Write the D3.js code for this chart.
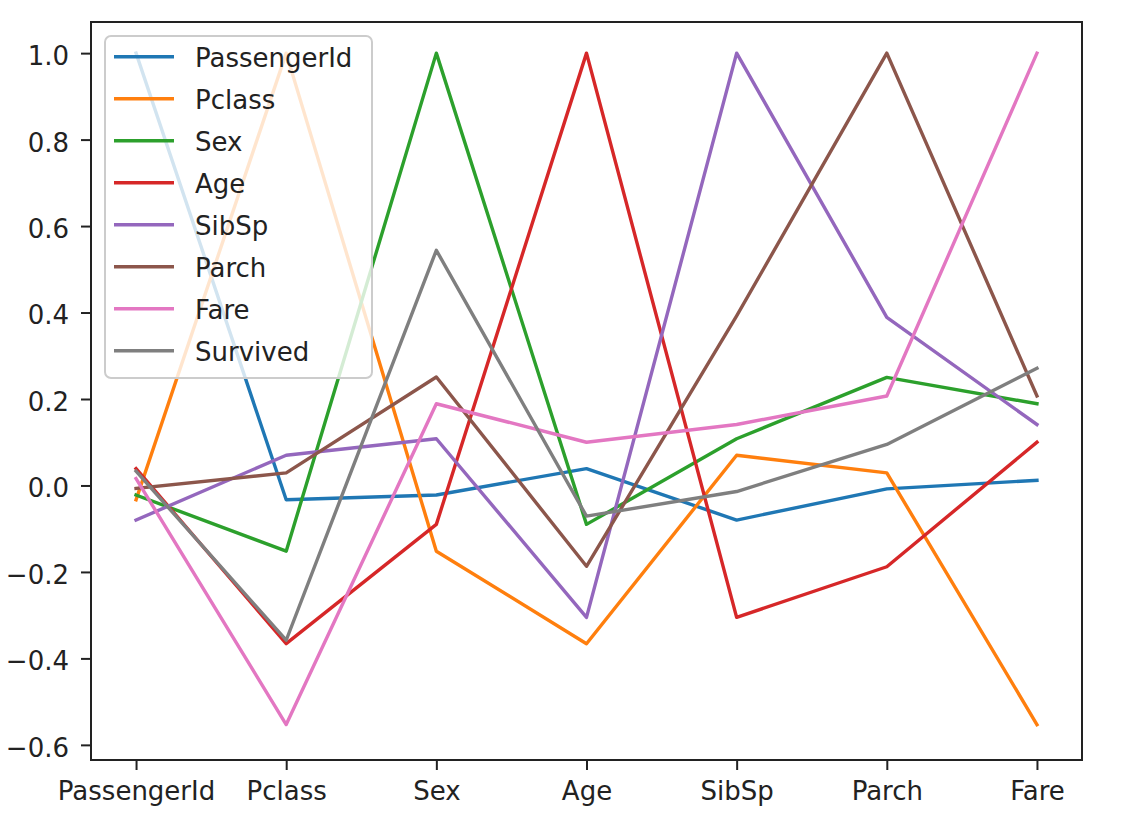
<!DOCTYPE html>
<html lang="en">
<head>
    <meta charset="UTF-8">
    <title>Correlation lines</title>
    <style>
        body { margin: 0; background: #fff; }
        svg text { font-family: "DejaVu Sans", sans-serif; }
        .tick text { fill: #222; font-size: 26px; font-family: "DejaVu Sans", sans-serif; }
        .tick line { stroke: #222; stroke-width: 2px; }
        .domain { display: none; }
        .series { fill: none; stroke-width: 3.4px; stroke-linejoin: round; stroke-linecap: square; }
        .legend-label { font-size: 26px; fill: #222; }
    </style>
</head>
<body>
    <svg id="chart" width="1126" height="822"></svg>

    <script src="https://d3js.org/d3.v7.min.js"></script>
    <script>
        // x positions (rows of the matrix)
        const categories = ["PassengerId", "Pclass", "Sex", "Age", "SibSp", "Parch", "Fare"];

        // one line per column
        const passengerId = [1.0, -0.033, -0.022, 0.039, -0.080, -0.008, 0.012];
        const pclass      = [-0.033, 1.0, -0.152, -0.366, 0.070, 0.029, -0.553];
        const sex         = [-0.022, -0.152, 1.0, -0.090, 0.108, 0.250, 0.189];
        const age         = [0.039, -0.366, -0.090, 1.0, -0.305, -0.188, 0.100];
        const sibSp       = [-0.080, 0.070, 0.108, -0.305, 1.0, 0.389, 0.141];
        const parch       = [-0.007, 0.029, 0.251, -0.187, 0.392, 1.0, 0.207];
        const fare        = [0.016, -0.553, 0.189, 0.100, 0.141, 0.207, 1.0];
        const survived    = [0.033, -0.358, 0.544, -0.071, -0.014, 0.095, 0.271];

        const seriesNames = ["PassengerId", "Pclass", "Sex", "Age", "SibSp", "Parch", "Fare", "Survived"];
        const seriesValues = [passengerId, pclass, sex, age, sibSp, parch, fare, survived];
        const colors = ["#1f77b4", "#ff7f0e", "#2ca02c", "#d62728", "#9467bd", "#8c564b", "#e377c2", "#7f7f7f"];

        const yTicks = [-0.6, -0.4, -0.2, 0.0, 0.2, 0.4, 0.6, 0.8, 1.0];
        const yDomain = [-0.635, 1.072];

        const svg = d3.select("#chart");
        const plotLeft = 91, plotRight = 1082, plotTop = 22, plotBottom = 760;

        const n = categories.length;
        const x = d3.scaleLinear()
            .domain([-0.05 * (n - 1), (n - 1) * 1.05])
            .range([plotLeft, plotRight]);

        const y = d3.scaleLinear()
            .domain(yDomain)
            .range([plotBottom, plotTop]);

        // lines
        const line = d3.line()
            .x((d, i) => x(i))
            .y(d => y(d));

        svg.append("g")
            .selectAll("path")
            .data(seriesValues)
            .join("path")
            .attr("class", "series")
            .attr("stroke", (d, i) => colors[i])
            .attr("d", line);

        // axes
        svg.append("g")
            .attr("transform", `translate(0,${plotBottom})`)
            .call(d3.axisBottom(x)
                .tickValues(d3.range(n))
                .tickFormat(i => categories[i])
                .tickSize(10)
                .tickPadding(11.5));

        svg.append("g")
            .attr("transform", `translate(${plotLeft},0)`)
            .call(d3.axisLeft(y)
                .tickValues(yTicks)
                .tickFormat(d3.format(".1f"))
                .tickSize(10)
                .tickPadding(12))
            .selectAll("text")
            .attr("dy", "0.44em");

        // frame
        svg.append("rect")
            .attr("x", plotLeft)
            .attr("y", plotTop)
            .attr("width", plotRight - plotLeft)
            .attr("height", plotBottom - plotTop)
            .attr("fill", "none")
            .attr("stroke", "#222")
            .attr("stroke-width", 2);

        // legend
        const legend = svg.append("g");
        legend.append("rect")
            .attr("x", 105)
            .attr("y", 36)
            .attr("width", 267)
            .attr("height", 342)
            .attr("rx", 6)
            .attr("fill", "#fff")
            .attr("fill-opacity", 0.8)
            .attr("stroke", "#ccc")
            .attr("stroke-width", 2);

        const rows = legend.selectAll("g.row")
            .data(seriesNames)
            .join("g")
            .attr("class", "row")
            .attr("transform", (d, i) => `translate(0,${56.7 + i * 42})`);

        rows.append("line")
            .attr("x1", 114)
            .attr("x2", 174)
            .attr("stroke", (d, i) => colors[i])
            .attr("stroke-width", 3.4);

        rows.append("text")
            .attr("class", "legend-label")
            .attr("x", 195)
            .attr("dy", "0.38em")
            .text(d => d);
    </script>
</body>
</html>
